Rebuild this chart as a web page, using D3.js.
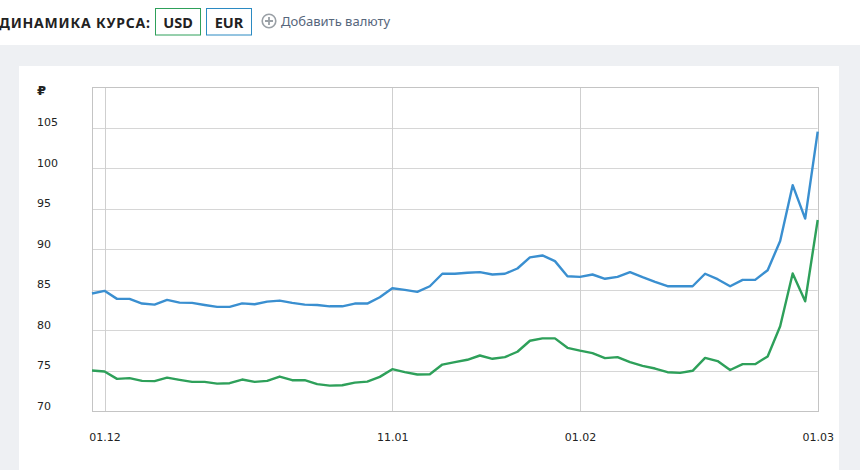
<!DOCTYPE html>
<html>
<head>
<meta charset="utf-8">
<script src="https://cdn.jsdelivr.net/npm/d3@7"></script>
<style>
    body { margin: 0; background: #fff; }
    svg { display: block; }
</style>
</head>
<body>
<div id="chart"></div>
<script>
// Dates of official rates (DD.MM), Nov 2021 - Mar 2022
var dates = ["30.11","01.12","02.12","03.12","04.12","07.12","08.12","09.12","10.12","11.12",
    "14.12","15.12","16.12","17.12","18.12","21.12","22.12","23.12","24.12","25.12",
    "28.12","29.12","30.12","31.12","11.01","12.01","13.01","14.01","15.01","18.01",
    "19.01","20.01","21.01","22.01","25.01","26.01","27.01","28.01","29.01","01.02",
    "02.02","03.02","04.02","05.02","08.02","09.02","10.02","11.02","12.02","15.02",
    "16.02","17.02","18.02","19.02","22.02","24.02","25.02","26.02","01.03"];

var eurValues = [84.54,84.87,83.88,83.88,83.30,83.17,83.75,83.42,83.38,83.13,
    82.89,82.89,83.33,83.22,83.54,83.67,83.38,83.17,83.13,82.96,
    82.96,83.30,83.30,84.08,85.19,84.99,84.74,85.44,86.98,86.98,
    87.10,87.18,86.89,86.98,87.63,89.00,89.24,88.54,86.68,86.60,
    86.89,86.36,86.60,87.18,86.56,85.98,85.44,85.44,85.44,86.98,
    86.31,85.44,86.23,86.23,87.42,91.02,97.92,93.79,104.52];

var usdValues = [75.03,74.91,74.00,74.09,73.75,73.72,74.16,73.88,73.63,73.63,
    73.42,73.47,73.92,73.63,73.75,74.29,73.84,73.84,73.35,73.17,
    73.22,73.54,73.67,74.25,75.20,74.83,74.55,74.58,75.77,76.07,
    76.36,76.89,76.48,76.69,77.35,78.71,79.00,79.00,77.84,77.49,
    77.19,76.57,76.69,76.07,75.61,75.28,74.83,74.75,75.00,76.60,
    76.20,75.10,75.82,75.82,76.77,80.49,87.01,83.58,93.62];

var xTickLabels = ["01.12","11.01","01.02","01.03"];
var yTickValues = [70,75,80,85,90,95,100,105];
var yDomain = [70, 110];

var eurColor = '#3a8fd0',
    usdColor = '#2ea05a';

var width = 860, height = 470;
var plot = { left: 92, right: 817.7, top: 87.3, bottom: 411.3 };

var svg = d3.select('#chart')
    .append('svg')
    .attr('width', width)
    .attr('height', height);

// Page background and card
svg.append('rect')
    .attr('x', 0).attr('y', 45)
    .attr('width', width).attr('height', height - 45)
    .style('fill', '#eef0f3');
svg.append('rect')
    .attr('x', 19).attr('y', 66)
    .attr('width', 820).attr('height', height - 66)
    .style('fill', '#fff');

// Header, spaced so it runs from the left edge to the buttons
var title = svg.append('text')
    .attr('x', -1)
    .attr('y', 28)
    .text('ДИНАМИКА КУРСА:')
    .style('font-family', '"Noto Sans", sans-serif')
    .style('font-weight', 'bold')
    .style('font-size', '14px')
    .style('fill', '#222');
var titleWidth = title.node().getComputedTextLength();
title.style('letter-spacing', ((151 - titleWidth) / 14) + 'px');

var buttons = [
    { label: 'USD', x: 155.5, color: usdColor },
    { label: 'EUR', x: 206.5, color: '#2b8ac2' }
];
buttons.forEach(b => {
    svg.append('rect')
        .attr('x', b.x).attr('y', 8.5)
        .attr('width', 45).attr('height', 26.5)
        .style('fill', '#fff')
        .style('stroke', b.color)
        .style('stroke-width', '1px');
    svg.append('text')
        .attr('x', b.x + 22.5)
        .attr('y', 27.5)
        .attr('text-anchor', 'middle')
        .text(b.label)
        .style('font-family', '"Noto Sans", sans-serif')
        .style('font-weight', 'bold')
        .style('font-size', '14.5px')
        .style('fill', '#222');
});

// Add currency link with plus icon
svg.append('circle')
    .attr('cx', 269).attr('cy', 21).attr('r', 6.8)
    .style('fill', 'none')
    .style('stroke', '#9aa0a6')
    .style('stroke-width', '1.6px');
svg.append('path')
    .attr('d', 'M265,21H273M269,17V25')
    .style('stroke', '#9aa0a6')
    .style('stroke-width', '1.8px');
svg.append('text')
    .attr('x', 281)
    .attr('y', 26)
    .text('Добавить валюту')
    .style('font-family', '"Noto Sans", sans-serif')
    .style('font-size', '13px')
    .style('fill', '#56667c');

// Scales
var x = d3.scalePoint()
    .domain(dates)
    .range([plot.left, plot.right])
    .padding(0);

var y = d3.scaleLinear()
    .domain(yDomain)
    .range([plot.bottom, plot.top]);

// Horizontal grid
svg.append('g')
    .selectAll('line')
    .data(yTickValues.concat([110]))
    .enter()
    .append('line')
        .attr('x1', plot.left).attr('x2', plot.right)
        .attr('y1', d => Math.round(y(d)) + 0.5)
        .attr('y2', d => Math.round(y(d)) + 0.5)
        .style('stroke', '#d6d6d6')
        .style('stroke-width', '1px');

// Vertical grid at labelled dates
svg.append('g')
    .selectAll('line')
    .data(xTickLabels)
    .enter()
    .append('line')
        .attr('x1', d => Math.round(x(d)) + 0.5)
        .attr('x2', d => Math.round(x(d)) + 0.5)
        .attr('y1', plot.top).attr('y2', plot.bottom)
        .style('stroke', '#cfcfcf')
        .style('stroke-width', '1px');

// Plot frame
svg.append('rect')
    .attr('x', Math.round(plot.left) + 0.5)
    .attr('y', Math.round(plot.top) + 0.5)
    .attr('width', Math.round(plot.right - plot.left))
    .attr('height', Math.round(plot.bottom - plot.top))
    .style('fill', 'none')
    .style('stroke', '#c4c4c4')
    .style('stroke-width', '1px');

// Y axis labels
var yAxis = d3.axisLeft(y)
    .tickValues(yTickValues)
    .tickSize(0)
    .tickFormat(d3.format('d'));
var yAxisG = svg.append('g')
    .attr('transform', 'translate(37,0)')
    .call(yAxis);
yAxisG.select('.domain').remove();
yAxisG.selectAll('text')
    .attr('x', 0)
    .attr('dy', '-0.2em')
    .attr('text-anchor', 'start')
    .style('font-family', '"DejaVu Sans", sans-serif')
    .style('font-size', '11px')
    .style('fill', '#222');

// Currency sign
svg.append('text')
    .attr('x', 37)
    .attr('y', 95)
    .text('₽')
    .style('font-family', '"DejaVu Sans", sans-serif')
    .style('font-weight', 'bold')
    .style('font-size', '13px')
    .style('fill', '#222');

// X axis labels
var xAxis = d3.axisBottom(x)
    .tickValues(xTickLabels)
    .tickSize(0);
var xAxisG = svg.append('g')
    .attr('transform', 'translate(0,' + plot.bottom + ')')
    .call(xAxis);
xAxisG.select('.domain').remove();
xAxisG.selectAll('text')
    .attr('y', 30)
    .attr('dy', 0)
    .style('font-family', '"DejaVu Sans", sans-serif')
    .style('font-size', '11px')
    .style('fill', '#222');

// Lines
var line = d3.line()
    .x((d, i) => x(dates[i]))
    .y(d => y(d));

[{ values: eurValues, color: eurColor }, { values: usdValues, color: usdColor }].forEach(s => {
    svg.append('path')
        .datum(s.values)
        .attr('d', line)
        .style('fill', 'none')
        .style('stroke', s.color)
        .style('stroke-width', '2.4px')
        .style('stroke-linejoin', 'round');
});
</script>
</body>
</html>
